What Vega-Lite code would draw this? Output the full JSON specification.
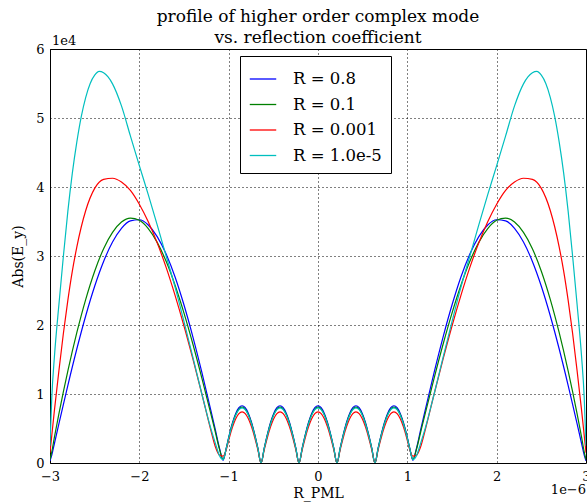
{
"$schema":"https://vega.github.io/schema/vega-lite/v6.json",
"width":536,"height":414,
"autosize":{"type":"none"},
"padding":{"left":50,"top":49,"right":1,"bottom":39},
"background":"white",
"title":{"text":["profile of higher order complex mode","vs. reflection coefficient"],"font":"DejaVu Serif","fontSize":17,"fontWeight":"normal","color":"black","anchor":"middle","frame":"group","lineHeight":21,"offset":-12},
"config":{
 "view":{"stroke":"black","strokeWidth":1},
 "axis":{"labelFont":"DejaVu Serif","labelFontSize":13,"labelColor":"black","titleFont":"DejaVu Serif","titleFontSize":14,"titleFontWeight":"normal","titleColor":"black","gridColor":"black","gridDash":[1,3],"gridOpacity":1,"gridWidth":1,"domain":false,"ticks":false,"labelFlush":false,"labelOverlap":false},
 "text":{"font":"DejaVu Serif","fontSize":13,"color":"black"}
},
"layer":[
{"data":{"values":[
{"R":"0.8","x":-3,"y":300},{"R":"0.8","x":-2.98,"y":1146},{"R":"0.8","x":-2.95,"y":2863},{"R":"0.8","x":-2.9,"y":5706},{"R":"0.8","x":-2.85,"y":8512},{"R":"0.8","x":-2.8,"y":11262},{"R":"0.8","x":-2.7,"y":16524},{"R":"0.8","x":-2.6,"y":21346},{"R":"0.8","x":-2.5,"y":25615},{"R":"0.8","x":-2.4,"y":29207},{"R":"0.8","x":-2.3,"y":32024},{"R":"0.8","x":-2.2,"y":34008},{"R":"0.8","x":-2.1,"y":35088},{"R":"0.8","x":-2,"y":35251},{"R":"0.8","x":-1.9,"y":34492},{"R":"0.8","x":-1.8,"y":32812},{"R":"0.8","x":-1.7,"y":30280},{"R":"0.8","x":-1.6,"y":26959},{"R":"0.8","x":-1.5,"y":22896},{"R":"0.8","x":-1.4,"y":18254},{"R":"0.8","x":-1.3,"y":13135},{"R":"0.8","x":-1.2,"y":7664},{"R":"0.8","x":-1.15,"y":4857},{"R":"0.8","x":-1.1,"y":2002},{"R":"0.8","x":-1.0625,"y":400},
{"R":"0.8","x":-1.0271,"y":2148},{"R":"0.8","x":-0.9917,"y":4150},{"R":"0.8","x":-0.9563,"y":5869},{"R":"0.8","x":-0.9208,"y":7188},{"R":"0.8","x":-0.8854,"y":8017},{"R":"0.8","x":-0.85,"y":8300},{"R":"0.8","x":-0.8146,"y":8017},{"R":"0.8","x":-0.7792,"y":7188},{"R":"0.8","x":-0.7438,"y":5869},{"R":"0.8","x":-0.7083,"y":4150},{"R":"0.8","x":-0.6729,"y":2148},{"R":"0.8","x":-0.6375,"y":0},{"R":"0.8","x":-0.6021,"y":2148},{"R":"0.8","x":-0.5667,"y":4150},{"R":"0.8","x":-0.5313,"y":5869},{"R":"0.8","x":-0.4958,"y":7188},{"R":"0.8","x":-0.4604,"y":8017},{"R":"0.8","x":-0.425,"y":8300},{"R":"0.8","x":-0.3896,"y":8017},{"R":"0.8","x":-0.3542,"y":7188},{"R":"0.8","x":-0.3188,"y":5869},{"R":"0.8","x":-0.2833,"y":4150},{"R":"0.8","x":-0.2479,"y":2148},{"R":"0.8","x":-0.2125,"y":0},{"R":"0.8","x":-0.1771,"y":2148},{"R":"0.8","x":-0.1417,"y":4150},{"R":"0.8","x":-0.1063,"y":5869},{"R":"0.8","x":-0.0708,"y":7188},{"R":"0.8","x":-0.0354,"y":8017},
{"R":"0.8","x":0,"y":8300},
{"R":"0.8","x":0.0354,"y":8017},{"R":"0.8","x":0.0708,"y":7188},{"R":"0.8","x":0.1063,"y":5869},{"R":"0.8","x":0.1417,"y":4150},{"R":"0.8","x":0.1771,"y":2148},{"R":"0.8","x":0.2125,"y":0},{"R":"0.8","x":0.2479,"y":2148},{"R":"0.8","x":0.2833,"y":4150},{"R":"0.8","x":0.3188,"y":5869},{"R":"0.8","x":0.3542,"y":7188},{"R":"0.8","x":0.3896,"y":8017},{"R":"0.8","x":0.425,"y":8300},{"R":"0.8","x":0.4604,"y":8017},{"R":"0.8","x":0.4958,"y":7188},{"R":"0.8","x":0.5313,"y":5869},{"R":"0.8","x":0.5667,"y":4150},{"R":"0.8","x":0.6021,"y":2148},{"R":"0.8","x":0.6375,"y":0},{"R":"0.8","x":0.6729,"y":2148},{"R":"0.8","x":0.7083,"y":4150},{"R":"0.8","x":0.7438,"y":5869},{"R":"0.8","x":0.7792,"y":7188},{"R":"0.8","x":0.8146,"y":8017},{"R":"0.8","x":0.85,"y":8300},{"R":"0.8","x":0.8854,"y":8017},{"R":"0.8","x":0.9208,"y":7188},{"R":"0.8","x":0.9563,"y":5869},{"R":"0.8","x":0.9917,"y":4150},{"R":"0.8","x":1.0271,"y":2148},
{"R":"0.8","x":1.0625,"y":400},{"R":"0.8","x":1.1,"y":2002},{"R":"0.8","x":1.15,"y":4857},{"R":"0.8","x":1.2,"y":7664},{"R":"0.8","x":1.3,"y":13135},{"R":"0.8","x":1.4,"y":18254},{"R":"0.8","x":1.5,"y":22896},{"R":"0.8","x":1.6,"y":26959},{"R":"0.8","x":1.7,"y":30280},{"R":"0.8","x":1.8,"y":32812},{"R":"0.8","x":1.9,"y":34492},{"R":"0.8","x":2,"y":35251},{"R":"0.8","x":2.1,"y":35088},{"R":"0.8","x":2.2,"y":34008},{"R":"0.8","x":2.3,"y":32024},{"R":"0.8","x":2.4,"y":29207},{"R":"0.8","x":2.5,"y":25615},{"R":"0.8","x":2.6,"y":21346},{"R":"0.8","x":2.7,"y":16524},{"R":"0.8","x":2.8,"y":11262},{"R":"0.8","x":2.85,"y":8512},{"R":"0.8","x":2.9,"y":5706},{"R":"0.8","x":2.95,"y":2863},{"R":"0.8","x":2.98,"y":1146},{"R":"0.8","x":3,"y":300},

{"R":"0.1","x":-3,"y":500},{"R":"0.1","x":-2.98,"y":1629},{"R":"0.1","x":-2.95,"y":3792},{"R":"0.1","x":-2.9,"y":7161},{"R":"0.1","x":-2.85,"y":10341},{"R":"0.1","x":-2.8,"y":13352},{"R":"0.1","x":-2.7,"y":18882},{"R":"0.1","x":-2.6,"y":23721},{"R":"0.1","x":-2.5,"y":27797},{"R":"0.1","x":-2.4,"y":31055},{"R":"0.1","x":-2.3,"y":33420},{"R":"0.1","x":-2.2,"y":34914},{"R":"0.1","x":-2.1,"y":35489},{"R":"0.1","x":-2,"y":35173},{"R":"0.1","x":-1.9,"y":33977},{"R":"0.1","x":-1.8,"y":31978},{"R":"0.1","x":-1.7,"y":29224},{"R":"0.1","x":-1.6,"y":25770},{"R":"0.1","x":-1.5,"y":21730},{"R":"0.1","x":-1.4,"y":17214},{"R":"0.1","x":-1.3,"y":12315},{"R":"0.1","x":-1.2,"y":7164},{"R":"0.1","x":-1.15,"y":4523},{"R":"0.1","x":-1.1,"y":1867},{"R":"0.1","x":-1.0625,"y":500},
{"R":"0.1","x":-1.0271,"y":2096},{"R":"0.1","x":-0.9917,"y":4050},{"R":"0.1","x":-0.9563,"y":5728},{"R":"0.1","x":-0.9208,"y":7015},{"R":"0.1","x":-0.8854,"y":7824},{"R":"0.1","x":-0.85,"y":8100},{"R":"0.1","x":-0.8146,"y":7824},{"R":"0.1","x":-0.7792,"y":7015},{"R":"0.1","x":-0.7438,"y":5728},{"R":"0.1","x":-0.7083,"y":4050},{"R":"0.1","x":-0.6729,"y":2096},{"R":"0.1","x":-0.6375,"y":0},{"R":"0.1","x":-0.6021,"y":2096},{"R":"0.1","x":-0.5667,"y":4050},{"R":"0.1","x":-0.5313,"y":5728},{"R":"0.1","x":-0.4958,"y":7015},{"R":"0.1","x":-0.4604,"y":7824},{"R":"0.1","x":-0.425,"y":8100},{"R":"0.1","x":-0.3896,"y":7824},{"R":"0.1","x":-0.3542,"y":7015},{"R":"0.1","x":-0.3188,"y":5728},{"R":"0.1","x":-0.2833,"y":4050},{"R":"0.1","x":-0.2479,"y":2096},{"R":"0.1","x":-0.2125,"y":0},{"R":"0.1","x":-0.1771,"y":2096},{"R":"0.1","x":-0.1417,"y":4050},{"R":"0.1","x":-0.1063,"y":5728},{"R":"0.1","x":-0.0708,"y":7015},{"R":"0.1","x":-0.0354,"y":7824},
{"R":"0.1","x":0,"y":8100},
{"R":"0.1","x":0.0354,"y":7824},{"R":"0.1","x":0.0708,"y":7015},{"R":"0.1","x":0.1063,"y":5728},{"R":"0.1","x":0.1417,"y":4050},{"R":"0.1","x":0.1771,"y":2096},{"R":"0.1","x":0.2125,"y":0},{"R":"0.1","x":0.2479,"y":2096},{"R":"0.1","x":0.2833,"y":4050},{"R":"0.1","x":0.3188,"y":5728},{"R":"0.1","x":0.3542,"y":7015},{"R":"0.1","x":0.3896,"y":7824},{"R":"0.1","x":0.425,"y":8100},{"R":"0.1","x":0.4604,"y":7824},{"R":"0.1","x":0.4958,"y":7015},{"R":"0.1","x":0.5313,"y":5728},{"R":"0.1","x":0.5667,"y":4050},{"R":"0.1","x":0.6021,"y":2096},{"R":"0.1","x":0.6375,"y":0},{"R":"0.1","x":0.6729,"y":2096},{"R":"0.1","x":0.7083,"y":4050},{"R":"0.1","x":0.7438,"y":5728},{"R":"0.1","x":0.7792,"y":7015},{"R":"0.1","x":0.8146,"y":7824},{"R":"0.1","x":0.85,"y":8100},{"R":"0.1","x":0.8854,"y":7824},{"R":"0.1","x":0.9208,"y":7015},{"R":"0.1","x":0.9563,"y":5728},{"R":"0.1","x":0.9917,"y":4050},{"R":"0.1","x":1.0271,"y":2096},
{"R":"0.1","x":1.0625,"y":500},{"R":"0.1","x":1.1,"y":1867},{"R":"0.1","x":1.15,"y":4523},{"R":"0.1","x":1.2,"y":7164},{"R":"0.1","x":1.3,"y":12315},{"R":"0.1","x":1.4,"y":17214},{"R":"0.1","x":1.5,"y":21730},{"R":"0.1","x":1.6,"y":25770},{"R":"0.1","x":1.7,"y":29224},{"R":"0.1","x":1.8,"y":31978},{"R":"0.1","x":1.9,"y":33977},{"R":"0.1","x":2,"y":35173},{"R":"0.1","x":2.1,"y":35489},{"R":"0.1","x":2.2,"y":34914},{"R":"0.1","x":2.3,"y":33420},{"R":"0.1","x":2.4,"y":31055},{"R":"0.1","x":2.5,"y":27797},{"R":"0.1","x":2.6,"y":23721},{"R":"0.1","x":2.7,"y":18882},{"R":"0.1","x":2.8,"y":13352},{"R":"0.1","x":2.85,"y":10341},{"R":"0.1","x":2.9,"y":7161},{"R":"0.1","x":2.95,"y":3792},{"R":"0.1","x":2.98,"y":1629},{"R":"0.1","x":3,"y":500},

{"R":"0.001","x":-3,"y":1500},{"R":"0.001","x":-2.98,"y":4000},{"R":"0.001","x":-2.95,"y":7700},{"R":"0.001","x":-2.9,"y":13400},{"R":"0.001","x":-2.85,"y":18800},{"R":"0.001","x":-2.8,"y":23600},{"R":"0.001","x":-2.75,"y":27800},{"R":"0.001","x":-2.7,"y":31300},{"R":"0.001","x":-2.6,"y":36600},{"R":"0.001","x":-2.5,"y":39800},{"R":"0.001","x":-2.4,"y":41100},{"R":"0.001","x":-2.3,"y":41270},{"R":"0.001","x":-2.2,"y":40720},{"R":"0.001","x":-2.1,"y":39500},{"R":"0.001","x":-2,"y":37500},{"R":"0.001","x":-1.9,"y":34950},{"R":"0.001","x":-1.8,"y":31900},{"R":"0.001","x":-1.7,"y":28350},{"R":"0.001","x":-1.6,"y":24300},{"R":"0.001","x":-1.5,"y":19850},{"R":"0.001","x":-1.4,"y":15050},{"R":"0.001","x":-1.3,"y":10000},{"R":"0.001","x":-1.2,"y":4770},{"R":"0.001","x":-1.15,"y":2400},{"R":"0.001","x":-1.1,"y":1100},{"R":"0.001","x":-1.0625,"y":1000},
{"R":"0.001","x":-1.0271,"y":1915},{"R":"0.001","x":-0.9917,"y":3700},{"R":"0.001","x":-0.9563,"y":5233},{"R":"0.001","x":-0.9208,"y":6408},{"R":"0.001","x":-0.8854,"y":7148},{"R":"0.001","x":-0.85,"y":7400},{"R":"0.001","x":-0.8146,"y":7148},{"R":"0.001","x":-0.7792,"y":6408},{"R":"0.001","x":-0.7438,"y":5233},{"R":"0.001","x":-0.7083,"y":3700},{"R":"0.001","x":-0.6729,"y":1915},{"R":"0.001","x":-0.6375,"y":0},{"R":"0.001","x":-0.6021,"y":1915},{"R":"0.001","x":-0.5667,"y":3700},{"R":"0.001","x":-0.5313,"y":5233},{"R":"0.001","x":-0.4958,"y":6408},{"R":"0.001","x":-0.4604,"y":7148},{"R":"0.001","x":-0.425,"y":7400},{"R":"0.001","x":-0.3896,"y":7148},{"R":"0.001","x":-0.3542,"y":6408},{"R":"0.001","x":-0.3188,"y":5233},{"R":"0.001","x":-0.2833,"y":3700},{"R":"0.001","x":-0.2479,"y":1915},{"R":"0.001","x":-0.2125,"y":0},{"R":"0.001","x":-0.1771,"y":1915},{"R":"0.001","x":-0.1417,"y":3700},{"R":"0.001","x":-0.1063,"y":5233},{"R":"0.001","x":-0.0708,"y":6408},{"R":"0.001","x":-0.0354,"y":7148},
{"R":"0.001","x":0,"y":7400},
{"R":"0.001","x":0.0354,"y":7148},{"R":"0.001","x":0.0708,"y":6408},{"R":"0.001","x":0.1063,"y":5233},{"R":"0.001","x":0.1417,"y":3700},{"R":"0.001","x":0.1771,"y":1915},{"R":"0.001","x":0.2125,"y":0},{"R":"0.001","x":0.2479,"y":1915},{"R":"0.001","x":0.2833,"y":3700},{"R":"0.001","x":0.3188,"y":5233},{"R":"0.001","x":0.3542,"y":6408},{"R":"0.001","x":0.3896,"y":7148},{"R":"0.001","x":0.425,"y":7400},{"R":"0.001","x":0.4604,"y":7148},{"R":"0.001","x":0.4958,"y":6408},{"R":"0.001","x":0.5313,"y":5233},{"R":"0.001","x":0.5667,"y":3700},{"R":"0.001","x":0.6021,"y":1915},{"R":"0.001","x":0.6375,"y":0},{"R":"0.001","x":0.6729,"y":1915},{"R":"0.001","x":0.7083,"y":3700},{"R":"0.001","x":0.7438,"y":5233},{"R":"0.001","x":0.7792,"y":6408},{"R":"0.001","x":0.8146,"y":7148},{"R":"0.001","x":0.85,"y":7400},{"R":"0.001","x":0.8854,"y":7148},{"R":"0.001","x":0.9208,"y":6408},{"R":"0.001","x":0.9563,"y":5233},{"R":"0.001","x":0.9917,"y":3700},{"R":"0.001","x":1.0271,"y":1915},
{"R":"0.001","x":1.0625,"y":1000},{"R":"0.001","x":1.1,"y":1100},{"R":"0.001","x":1.15,"y":2400},{"R":"0.001","x":1.2,"y":4770},{"R":"0.001","x":1.3,"y":10000},{"R":"0.001","x":1.4,"y":15050},{"R":"0.001","x":1.5,"y":19850},{"R":"0.001","x":1.6,"y":24300},{"R":"0.001","x":1.7,"y":28350},{"R":"0.001","x":1.8,"y":31900},{"R":"0.001","x":1.9,"y":34950},{"R":"0.001","x":2,"y":37500},{"R":"0.001","x":2.1,"y":39500},{"R":"0.001","x":2.2,"y":40720},{"R":"0.001","x":2.3,"y":41270},{"R":"0.001","x":2.4,"y":41100},{"R":"0.001","x":2.5,"y":39800},{"R":"0.001","x":2.6,"y":36600},{"R":"0.001","x":2.7,"y":31300},{"R":"0.001","x":2.75,"y":27800},{"R":"0.001","x":2.8,"y":23600},{"R":"0.001","x":2.85,"y":18800},{"R":"0.001","x":2.9,"y":13400},{"R":"0.001","x":2.95,"y":7700},{"R":"0.001","x":2.98,"y":4000},{"R":"0.001","x":3,"y":1500},

{"R":"1.0e-5","x":-3,"y":2500},{"R":"1.0e-5","x":-2.98,"y":9500},{"R":"1.0e-5","x":-2.95,"y":15500},{"R":"1.0e-5","x":-2.9,"y":23000},{"R":"1.0e-5","x":-2.85,"y":30000},{"R":"1.0e-5","x":-2.8,"y":36500},{"R":"1.0e-5","x":-2.75,"y":42000},{"R":"1.0e-5","x":-2.7,"y":46500},{"R":"1.0e-5","x":-2.65,"y":50200},{"R":"1.0e-5","x":-2.6,"y":53000},{"R":"1.0e-5","x":-2.55,"y":55000},{"R":"1.0e-5","x":-2.5,"y":56200},{"R":"1.0e-5","x":-2.45,"y":56750},{"R":"1.0e-5","x":-2.4,"y":56550},{"R":"1.0e-5","x":-2.35,"y":55950},{"R":"1.0e-5","x":-2.3,"y":54950},{"R":"1.0e-5","x":-2.2,"y":51750},{"R":"1.0e-5","x":-2.1,"y":47400},{"R":"1.0e-5","x":-2,"y":43100},{"R":"1.0e-5","x":-1.9,"y":38900},{"R":"1.0e-5","x":-1.8,"y":34500},{"R":"1.0e-5","x":-1.7,"y":30000},{"R":"1.0e-5","x":-1.6,"y":25500},{"R":"1.0e-5","x":-1.5,"y":20500},{"R":"1.0e-5","x":-1.4,"y":15300},{"R":"1.0e-5","x":-1.3,"y":10000},{"R":"1.0e-5","x":-1.2,"y":5000},{"R":"1.0e-5","x":-1.15,"y":2900},{"R":"1.0e-5","x":-1.1,"y":1000},{"R":"1.0e-5","x":-1.0625,"y":500},
{"R":"1.0e-5","x":-1.0271,"y":2070},{"R":"1.0e-5","x":-0.9917,"y":4000},{"R":"1.0e-5","x":-0.9563,"y":5657},{"R":"1.0e-5","x":-0.9208,"y":6928},{"R":"1.0e-5","x":-0.8854,"y":7727},{"R":"1.0e-5","x":-0.85,"y":8000},{"R":"1.0e-5","x":-0.8146,"y":7727},{"R":"1.0e-5","x":-0.7792,"y":6928},{"R":"1.0e-5","x":-0.7438,"y":5657},{"R":"1.0e-5","x":-0.7083,"y":4000},{"R":"1.0e-5","x":-0.6729,"y":2070},{"R":"1.0e-5","x":-0.6375,"y":0},{"R":"1.0e-5","x":-0.6021,"y":2070},{"R":"1.0e-5","x":-0.5667,"y":4000},{"R":"1.0e-5","x":-0.5313,"y":5657},{"R":"1.0e-5","x":-0.4958,"y":6928},{"R":"1.0e-5","x":-0.4604,"y":7727},{"R":"1.0e-5","x":-0.425,"y":8000},{"R":"1.0e-5","x":-0.3896,"y":7727},{"R":"1.0e-5","x":-0.3542,"y":6928},{"R":"1.0e-5","x":-0.3188,"y":5657},{"R":"1.0e-5","x":-0.2833,"y":4000},{"R":"1.0e-5","x":-0.2479,"y":2070},{"R":"1.0e-5","x":-0.2125,"y":0},{"R":"1.0e-5","x":-0.1771,"y":2070},{"R":"1.0e-5","x":-0.1417,"y":4000},{"R":"1.0e-5","x":-0.1063,"y":5657},{"R":"1.0e-5","x":-0.0708,"y":6928},{"R":"1.0e-5","x":-0.0354,"y":7727},
{"R":"1.0e-5","x":0,"y":8000},
{"R":"1.0e-5","x":0.0354,"y":7727},{"R":"1.0e-5","x":0.0708,"y":6928},{"R":"1.0e-5","x":0.1063,"y":5657},{"R":"1.0e-5","x":0.1417,"y":4000},{"R":"1.0e-5","x":0.1771,"y":2070},{"R":"1.0e-5","x":0.2125,"y":0},{"R":"1.0e-5","x":0.2479,"y":2070},{"R":"1.0e-5","x":0.2833,"y":4000},{"R":"1.0e-5","x":0.3188,"y":5657},{"R":"1.0e-5","x":0.3542,"y":6928},{"R":"1.0e-5","x":0.3896,"y":7727},{"R":"1.0e-5","x":0.425,"y":8000},{"R":"1.0e-5","x":0.4604,"y":7727},{"R":"1.0e-5","x":0.4958,"y":6928},{"R":"1.0e-5","x":0.5313,"y":5657},{"R":"1.0e-5","x":0.5667,"y":4000},{"R":"1.0e-5","x":0.6021,"y":2070},{"R":"1.0e-5","x":0.6375,"y":0},{"R":"1.0e-5","x":0.6729,"y":2070},{"R":"1.0e-5","x":0.7083,"y":4000},{"R":"1.0e-5","x":0.7438,"y":5657},{"R":"1.0e-5","x":0.7792,"y":6928},{"R":"1.0e-5","x":0.8146,"y":7727},{"R":"1.0e-5","x":0.85,"y":8000},{"R":"1.0e-5","x":0.8854,"y":7727},{"R":"1.0e-5","x":0.9208,"y":6928},{"R":"1.0e-5","x":0.9563,"y":5657},{"R":"1.0e-5","x":0.9917,"y":4000},{"R":"1.0e-5","x":1.0271,"y":2070},
{"R":"1.0e-5","x":1.0625,"y":500},{"R":"1.0e-5","x":1.1,"y":1000},{"R":"1.0e-5","x":1.15,"y":2900},{"R":"1.0e-5","x":1.2,"y":5000},{"R":"1.0e-5","x":1.3,"y":10000},{"R":"1.0e-5","x":1.4,"y":15300},{"R":"1.0e-5","x":1.5,"y":20500},{"R":"1.0e-5","x":1.6,"y":25500},{"R":"1.0e-5","x":1.7,"y":30000},{"R":"1.0e-5","x":1.8,"y":34500},{"R":"1.0e-5","x":1.9,"y":38900},{"R":"1.0e-5","x":2,"y":43100},{"R":"1.0e-5","x":2.1,"y":47400},{"R":"1.0e-5","x":2.2,"y":51750},{"R":"1.0e-5","x":2.3,"y":54950},{"R":"1.0e-5","x":2.35,"y":55950},{"R":"1.0e-5","x":2.4,"y":56550},{"R":"1.0e-5","x":2.45,"y":56750},{"R":"1.0e-5","x":2.5,"y":56200},{"R":"1.0e-5","x":2.55,"y":55000},{"R":"1.0e-5","x":2.6,"y":53000},{"R":"1.0e-5","x":2.65,"y":50200},{"R":"1.0e-5","x":2.7,"y":46500},{"R":"1.0e-5","x":2.75,"y":42000},{"R":"1.0e-5","x":2.8,"y":36500},{"R":"1.0e-5","x":2.85,"y":30000},{"R":"1.0e-5","x":2.9,"y":23000},{"R":"1.0e-5","x":2.95,"y":15500},{"R":"1.0e-5","x":2.98,"y":9500},{"R":"1.0e-5","x":3,"y":2500}
]},
 "mark":{"type":"line","strokeWidth":1.2,"interpolate":"monotone","clip":true},
 "encoding":{
  "x":{"field":"x","type":"quantitative","scale":{"domain":[-3,3],"nice":false,"zero":false},"axis":{"values":[-3,-2,-1,0,1,2,3],"labelExpr":"datum.value < 0 ? '\u2212' + (-datum.value) : '' + datum.value","title":"R_PML","labelPadding":7,"titlePadding":3,"grid":true}},
  "y":{"field":"y","type":"quantitative","scale":{"domain":[0,60000],"nice":false},"axis":{"values":[0,10000,20000,30000,40000,50000,60000],"labelExpr":"'' + datum.value / 10000","title":"Abs(E_y)","labelPadding":6,"titlePadding":10,"grid":true}},
  "color":{"field":"R","type":"nominal","scale":{"domain":["0.8","0.1","0.001","1.0e-5"],"range":["#0000ff","#008000","#ff0000","#00bfbf"]},
   "legend":{"orient":"none","legendX":190,"legendY":7,"title":null,"labelExpr":"'R = ' + datum.label","symbolType":"stroke","symbolSize":700,"symbolStrokeWidth":1.3,"labelFont":"DejaVu Serif","labelFontSize":16.5,"labelColor":"black","strokeColor":"black","fillColor":"white","padding":9,"rowPadding":2.5,"labelOffset":16}}
 }},
{"data":{"values":[{"label":"1e4","x":-3,"y":60000}]},
 "mark":{"type":"text","align":"left","baseline":"bottom","dx":2,"dy":-1},
 "encoding":{"x":{"field":"x","type":"quantitative"},"y":{"field":"y","type":"quantitative"},"text":{"field":"label"}}},
{"data":{"values":[{"label":"1e\u22126","x":3,"y":0}]},
 "mark":{"type":"text","align":"right","baseline":"middle","dy":27},
 "encoding":{"x":{"field":"x","type":"quantitative"},"y":{"field":"y","type":"quantitative"},"text":{"field":"label"}}}
]
}
